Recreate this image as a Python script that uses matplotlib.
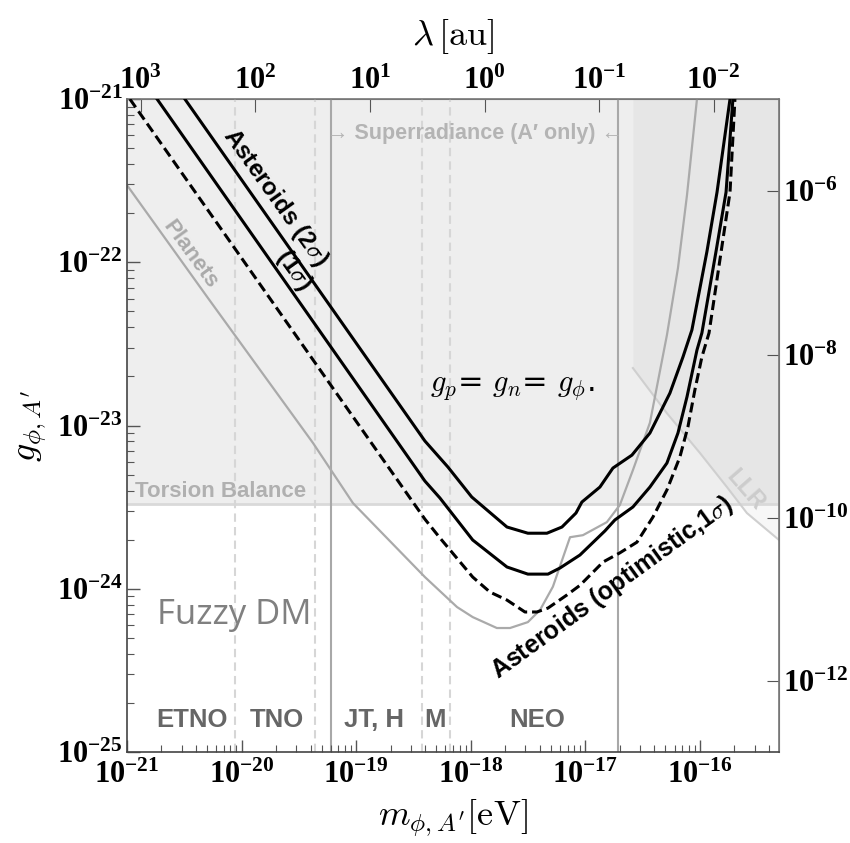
import numpy as np
import matplotlib
matplotlib.use('Agg')
import matplotlib.pyplot as plt
from matplotlib.ticker import LogLocator, LogFormatterMathtext, NullLocator, NullFormatter

plt.rcParams['mathtext.fontset'] = 'cm'

# Asteroids curves (m in eV, g dimensionless)
ast2_m = [3.2e-21, 3.98e-19, 6.32e-19, 1.02e-18, 2.07e-18, 3.15e-18, 4.62e-18, 6.25e-18,
          8.28e-18, 9.33e-18, 1.34e-17, 1.74e-17, 2.55e-17, 3.66e-17, 5.47e-17, 7.11e-17,
          8.51e-17, 1.15e-16, 1.41e-16, 1.83e-16]
ast2_g = [1e-21, 8.04e-24, 5.57e-24, 3.65e-24, 2.39e-24, 2.19e-24, 2.19e-24, 2.39e-24,
          2.91e-24, 3.40e-24, 4.20e-24, 5.49e-24, 6.59e-24, 9.0e-24, 1.58e-23, 2.63e-23,
          3.85e-23, 1.16e-22, 2.69e-22, 1e-21]

ast1_m = [1.83e-21, 3.98e-19, 5.38e-19, 1.04e-18, 2.07e-18, 3.15e-18, 4.72e-18, 6.0e-18,
          8.97e-18, 1.48e-17, 1.81e-17, 2.60e-17, 3.66e-17, 5.15e-17, 6.43e-17, 7.71e-17,
          9.42e-17, 1.04e-16, 1.38e-16, 1.69e-16, 1.94e-16]
ast1_g = [1e-21, 4.57e-24, 3.60e-24, 1.99e-24, 1.36e-24, 1.23e-24, 1.23e-24, 1.34e-24,
          1.61e-24, 2.26e-24, 2.64e-24, 3.17e-24, 4.20e-24, 5.89e-24, 9.0e-24, 1.50e-23,
          2.90e-23, 3.69e-23, 1.16e-22, 2.69e-22, 1e-21]

opt_m = [1.06e-21, 3.98e-19, 5.38e-19, 1.04e-18, 1.47e-18, 2.07e-18, 2.97e-18, 3.78e-18,
         4.72e-18, 6.90e-18, 8.97e-18, 1.43e-17, 2.00e-17, 2.82e-17, 3.89e-17, 5.15e-17,
         6.68e-17, 7.85e-17, 9.03e-17, 1.04e-16, 1.20e-16, 1.83e-16, 2.02e-16]
opt_g = [1e-21, 2.67e-24, 2.05e-24, 1.18e-24, 9.55e-25, 8.53e-25, 7.21e-25, 7.21e-25,
         7.62e-25, 9.16e-25, 1.05e-24, 1.46e-24, 1.66e-24, 1.93e-24, 2.75e-24, 4.03e-24,
         6.41e-24, 9.79e-24, 1.65e-23, 2.63e-23, 3.69e-23, 2.69e-22, 1e-21]

planets_m = [1e-21, 5.09e-21, 4.20e-20, 9.37e-20, 3.98e-19, 7.59e-19, 1.04e-18, 1.69e-18,
             2.20e-18, 3.15e-18, 4.02e-18, 5.21e-18, 7.35e-18, 9.52e-18, 1.54e-17, 2.00e-17,
             2.60e-17, 3.66e-17, 5.15e-17, 6.43e-17, 7.71e-17, 9.42e-17]
planets_g = [2.97e-22, 6.04e-23, 7.82e-24, 3.35e-24, 1.18e-24, 7.73e-25, 6.71e-25, 5.75e-25,
             5.75e-25, 6.25e-25, 7.41e-25, 1.03e-24, 2.07e-24, 2.13e-24, 2.56e-24, 3.26e-24,
             5.33e-24, 1.04e-23, 3.58e-23, 9.22e-23, 2.58e-22, 1e-21]

llr_m = [2.60e-17, 5.15e-17, 1.0e-16, 1.72e-16, 2.57e-16, 4.9e-16]
llr_g = [2.25e-23, 1.19e-23, 6.79e-24, 4.20e-24, 2.91e-24, 1.99e-24]

torsion_g = 3.3e-24

dashed_m = [8.75e-21, 4.35e-20, 3.73e-19, 6.55e-19]
solid_m = [6.0e-20, 1.91e-17]

regions = ['ETNO', 'TNO', 'JT, H', 'M', 'NEO']
regions_m = [3.69e-21, 2.04e-20, 1.43e-19, 4.88e-19, 3.78e-18]

x_ticks = [1e-21, 1e-20, 1e-19, 1e-18, 1e-17, 1e-16]
y_ticks = [1e-25, 1e-24, 1e-23, 1e-22, 1e-21]
lam_ticks = [1e3, 1e2, 1e1, 1e0, 1e-1, 1e-2]
alpha_ticks = [1e-6, 1e-8, 1e-10, 1e-12]

xmin, xmax = 1e-21, 4.9e-16
ymin, ymax = 1e-25, 1e-21

fig = plt.figure(figsize=(8.5, 8.43), dpi=100)
ax = fig.add_axes([0.1494, 0.1079, 0.7671, 0.7746])
ax.set_xscale('log')
ax.set_yscale('log')
ax.set_xlim(xmin, xmax)
ax.set_ylim(ymin, ymax)

# excluded regions
ax.axhspan(torsion_g, ymax, color='#eeeeee', lw=0, zorder=0)
ax.fill_between(llr_m, llr_g, ymax, color='black', alpha=0.03, lw=0, zorder=0.5)
ax.axhline(torsion_g, color='#d9d9d9', lw=2, zorder=1)
ax.plot(llr_m, llr_g, color='#cfcfcf', lw=1.5, zorder=1)

for m in dashed_m:
    ax.axvline(m, color='#d6d6d6', lw=1.5, ls=(0, (4, 2.5)), zorder=1)
for m in solid_m:
    ax.axvline(m, color='#a8a8a8', lw=1.5, zorder=1)

ax.plot(planets_m, planets_g, color='#aaaaaa', lw=1.6, zorder=2)
ax.plot(ast2_m, ast2_g, color='black', lw=2.2, zorder=3)
ax.plot(ast1_m, ast1_g, color='black', lw=2.2, zorder=3)
ax.plot(opt_m, opt_g, color='black', lw=2.2, ls=(0, (3.3, 1.6)), zorder=3)

# annotations
sans = ['Liberation Sans', 'DejaVu Sans']
ax.text(1.17e-21, 3.92e-24, 'Torsion Balance', color='#b0b0b0', fontsize=16,
        fontweight='bold', family=sans, ha='left', va='center')
ax.text(1.09e-18, 6.19e-22, "→ Superradiance (A′ only) ←", color='#b4b4b4', fontsize=15.5,
        fontweight='bold', family=sans, ha='center', va='center')
ax.text(3.55e-21, 1.11e-22, 'Planets', color='#aaaaaa', fontsize=16, fontweight='bold',
        family=sans, rotation=-54, ha='center', va='center', rotation_mode='anchor')
ax.text(1.95e-20, 2.51e-22, r'Asteroids (2$\sigma$)', color='black', fontsize=17.5,
        fontweight='bold', family=sans, rotation=-54.5, ha='center', va='center',
        rotation_mode='anchor')
ax.text(2.85e-20, 8.97e-23, r'(1$\sigma$)', color='black', fontsize=17.5,
        fontweight='bold', family=sans, rotation=-54.5, ha='center', va='center',
        rotation_mode='anchor')
ax.text(1.71e-17, 1.01e-24, r'Asteroids (optimistic,1$\sigma$)', color='black',
        fontsize=18, fontweight='bold', family=sans, rotation=36, ha='center',
        va='center', rotation_mode='anchor')
ax.text(2.47e-16, 4.03e-24, 'LLR', color='#cccccc', fontsize=17, fontweight='bold',
        family=sans, rotation=-49, ha='center', va='center', rotation_mode='anchor')
ax.text(4.41e-19, 1.70e-23, r'$g_p$= $g_n$= $g_\phi$.', color='black', fontsize=22,
        ha='left', va='center')
ax.text(8.6e-21, 6.9e-25, 'Fuzzy DM', color='#808080', fontsize=25, family='Open Sans',
        ha='center', va='center')
for name, m in zip(regions, regions_m):
    ax.text(m, 1.57e-25, name, color='#666666', fontsize=18.5, fontweight='bold',
            family=sans, ha='center', va='center')

# axes styling
tick_font = dict(family='Liberation Serif', weight='bold', size=22)
for s in ax.spines.values():
    s.set_color('#777777')
    s.set_linewidth(1.2)
ax.spines['left'].set_color('#444444')
ax.spines['bottom'].set_color('#444444')
ax.tick_params(which='both', direction='in', top=False, right=False, colors='#555555',
               labelcolor='black')
ax.tick_params(which='major', length=9, width=1)
ax.tick_params(which='minor', length=5, width=0.8)
ax.set_xticks(x_ticks)
ax.set_yticks(y_ticks)
ax.xaxis.set_major_formatter(LogFormatterMathtext())
ax.yaxis.set_major_formatter(LogFormatterMathtext())
ax.xaxis.set_minor_locator(LogLocator(base=10, subs=np.arange(2, 10), numticks=20))
ax.yaxis.set_minor_locator(LogLocator(base=10, subs=np.arange(2, 10), numticks=20))
ax.xaxis.set_minor_formatter(NullFormatter())
ax.yaxis.set_minor_formatter(NullFormatter())
for lab in ax.get_xticklabels() + ax.get_yticklabels():
    lab.set_fontproperties(tick_font)
ax.tick_params(axis='x', pad=6)
ax.tick_params(axis='y', pad=3)

ax.set_xlabel(r"$m_{\phi,A'}[\mathrm{eV}]$", fontsize=26, labelpad=6)
ax.set_ylabel(r"$g_{\phi,A'}$", fontsize=26, labelpad=6)

# top axis: wavelength in au
lam_c = 1.319e-18
top = ax.secondary_xaxis('top', functions=(lambda m: lam_c / np.clip(m, 1e-40, None),
                                           lambda l: lam_c / np.clip(l, 1e-40, None)))
top.set_xticks(lam_ticks)
top.xaxis.set_minor_locator(NullLocator())
top.xaxis.set_major_formatter(LogFormatterMathtext())
top.tick_params(direction='in', length=9, colors='#555555', labelcolor='black', pad=2)
for lab in top.get_xticklabels():
    lab.set_fontproperties(tick_font)
top.set_xlabel(r"$\lambda\,[\mathrm{au}]$", fontsize=26, labelpad=16)
top.spines['top'].set_color('#777777')

# right axis: coupling squared in gravitational units
alpha_c = 1.35e37
right = ax.secondary_yaxis('right', functions=(lambda g: g ** 2 * alpha_c,
                                               lambda a: np.sqrt(np.abs(a) / alpha_c)))
right.set_yticks(alpha_ticks)
right.yaxis.set_minor_locator(NullLocator())
right.yaxis.set_major_formatter(LogFormatterMathtext())
right.tick_params(direction='in', length=9, colors='#555555', labelcolor='black', pad=3)
for lab in right.get_yticklabels():
    lab.set_fontproperties(tick_font)
right.spines['right'].set_color('#777777')

fig.savefig('out.png', dpi=100, facecolor='white')
